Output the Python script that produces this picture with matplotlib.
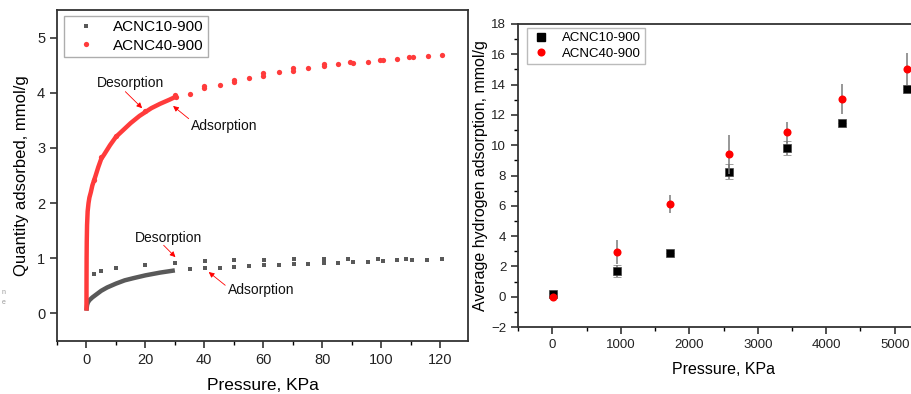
import matplotlib
matplotlib.use("Agg")
import matplotlib.pyplot as plt
from matplotlib.ticker import MultipleLocator

plt.rcParams['font.family'] = ['Liberation Sans', 'DejaVu Sans']

# ---------------- Left panel data ----------------
red_curve_x = [0, 0.02, 0.05, 0.1, 0.2, 0.4, 0.7, 1, 1.5, 2, 3, 4, 5, 6, 8, 10,
               12, 15, 18, 20, 22, 25, 28, 30]
red_curve_y = [0.05, 0.6, 1.0, 1.3, 1.6, 1.85, 2.0, 2.1, 2.2, 2.32, 2.48, 2.65,
               2.8, 2.88, 3.05, 3.2, 3.3, 3.45, 3.58, 3.65, 3.72, 3.8, 3.87, 3.92]
red_pts_x = [2.5, 5.1, 9.9, 19.8, 30.3, 30.0, 35.1, 40, 40, 45.2, 50, 50, 55, 60, 60,
             65.3, 70, 70, 75.3, 80.5, 80.5, 85.5, 89.5, 90.5, 95.5, 99.7, 100.5,
             105.5, 109.5, 110.8, 116, 120.7]
red_pts_y = [2.41, 2.83, 3.22, 3.67, 3.92, 3.96, 3.98, 4.13, 4.08, 4.14, 4.24, 4.19,
             4.27, 4.35, 4.31, 4.37, 4.44, 4.40, 4.44, 4.52, 4.48, 4.52, 4.56, 4.54,
             4.55, 4.60, 4.59, 4.61, 4.64, 4.64, 4.66, 4.68]

gray_curve_x = [0, 0.2, 0.5, 1, 2, 3, 4, 5, 7, 10, 13, 16, 20, 25, 30]
gray_curve_y = [0.05, 0.15, 0.2, 0.24, 0.29, 0.33, 0.37, 0.41, 0.47, 0.54, 0.6,
                0.64, 0.69, 0.74, 0.78]
gray_pts_x = [2.5, 5.1, 10, 20, 30.1, 40.1, 50.2, 60.3, 70.3, 80.5, 88.9, 98.9, 108.6,
              35.1, 40.1, 45.2, 50.2, 55.2, 60.3, 65.3, 70.3, 75.3, 80.5, 85.5, 90.5,
              95.5, 100.5, 105.5, 110.5, 115.7, 120.7]
gray_pts_y = [0.71, 0.77, 0.83, 0.88, 0.92, 0.95, 0.96, 0.97, 0.98, 0.98, 0.99, 0.98,
              0.98, 0.80, 0.82, 0.83, 0.84, 0.86, 0.87, 0.88, 0.89, 0.90, 0.91, 0.92,
              0.93, 0.94, 0.95, 0.96, 0.965, 0.97, 0.98]

# annotation labels, text positions, arrow tails and tips (data coords)
ann_labels = ['Desorption', 'Adsorption', 'Desorption', 'Adsorption']
ann_text_xy = [(14.9, 4.18), (46.9, 3.39), (27.7, 1.37), (59.3, 0.42)]
ann_tail_xy = [(13.2, 4.02), (34.7, 3.53), (26.2, 1.235), (47.1, 0.51)]
ann_tip_xy = [(18.9, 3.72), (29.4, 3.76), (30.2, 1.02), (41.5, 0.75)]

# ---------------- Right panel data ----------------
pressure_10 = [15, 940, 1722, 2578, 3430, 4231, 5180]
acnc10 = [0.15, 1.70, 2.89, 8.24, 9.83, 11.44, 13.69]
acnc10_err = [0.1, 0.37, 0.0, 0.5, 0.45, 0.0, 0.0]
pressure_40 = [15, 940, 1722, 2578, 3430, 4231, 5180]
acnc40 = [0.0, 2.93, 6.11, 9.41, 10.85, 13.03, 15.03]
acnc40_err = [0.0, 0.8, 0.6, 1.28, 0.7, 1.0, 1.03]

series_names = ['ACNC10-900', 'ACNC40-900']

RED_L = '#FF3B3B'
GRAY_L = '#595959'

fig = plt.figure(figsize=(9.11, 3.94), dpi=100)

# ---------------- Left axes ----------------
ax1 = fig.add_axes([57/911, 1-341/394, (468-57)/911, (341-10)/394])
ax1.plot(gray_curve_x, gray_curve_y, color=GRAY_L, lw=3.2, solid_capstyle='butt', zorder=2)
ax1.plot(red_curve_x, red_curve_y, color=RED_L, lw=3.2, solid_capstyle='butt', zorder=3)
ax1.plot(gray_pts_x, gray_pts_y, 's', color=GRAY_L, ms=3.2, mew=0, zorder=2)
ax1.plot(red_pts_x, red_pts_y, 'o', color=RED_L, ms=3.8, mew=0, zorder=3)
h1 = ax1.plot([], [], 's', color=GRAY_L, ms=3.2, mew=0)[0]
h2 = ax1.plot([], [], 'o', color=RED_L, ms=3.8, mew=0)[0]
leg1 = ax1.legend([h1, h2], series_names, loc='upper left', bbox_to_anchor=(0.018, 0.983),
                  fontsize=11, frameon=True, fancybox=False, edgecolor='#999999',
                  handlelength=2.2, handletextpad=0.7, borderpad=0.3, labelspacing=0.3,
                  borderaxespad=0)
leg1.get_frame().set_linewidth(1.0)

ax1.set_xlim(-10, 129.5)
ax1.set_ylim(-0.5, 5.5)
ax1.xaxis.set_major_locator(MultipleLocator(20))
ax1.xaxis.set_minor_locator(MultipleLocator(10))
ax1.yaxis.set_major_locator(MultipleLocator(1))
ax1.tick_params(direction='out', length=5, width=1.1, labelsize=10.5, colors='#222222')
ax1.tick_params(which='minor', direction='out', length=3, width=1.0)
for s in ax1.spines.values():
    s.set_linewidth(1.3)
    s.set_color('#333333')
ax1.set_xlabel('Pressure, KPa', fontsize=12.5, labelpad=8)
ax1.set_ylabel('Quantity adsorbed, mmol/g', fontsize=12, labelpad=6)

for lab, txy, tail, tip in zip(ann_labels, ann_text_xy, ann_tail_xy, ann_tip_xy):
    ax1.text(txy[0], txy[1], lab, fontsize=10, ha='center', va='center', color='#111111')
    ax1.annotate('', xy=tip, xytext=tail,
                 arrowprops=dict(arrowstyle='-|>', color='red', lw=0.6,
                                 mutation_scale=8, shrinkA=0, shrinkB=0))

fig.text(2/911, 1-292/394, 'n', fontsize=5, color='#9a9a9a', va='center')
fig.text(2/911, 1-302/394, 'e', fontsize=5, color='#9a9a9a', va='center')

# ---------------- Right axes ----------------
ax2 = fig.add_axes([518/911, 1-327/394, (929-518)/911, (327-24)/394])
ax2.errorbar(pressure_10, acnc10, yerr=acnc10_err, fmt='s', color='black', ms=5.2,
             mew=0.5, mec='#444444', ecolor='#7a7a7a', elinewidth=1.1, capsize=3,
             capthick=1.1, zorder=3)
ax2.errorbar(pressure_40, acnc40, yerr=acnc40_err, fmt='o', color='#FF0000', ms=5.8,
             mew=0, ecolor='#7a7a7a', elinewidth=1.1, capsize=3, capthick=1.1, zorder=4)
g1 = ax2.plot([], [], 's', color='black', ms=5.2)[0]
g2 = ax2.plot([], [], 'o', color='#FF0000', ms=5.8, mew=0)[0]
leg2 = ax2.legend([g1, g2], series_names, loc='upper left', bbox_to_anchor=(0.0215, 0.987),
                  fontsize=9.5, frameon=True, fancybox=False, edgecolor='#aaaaaa',
                  handlelength=1.6, handletextpad=0.8, borderpad=0.3, labelspacing=0.25,
                  borderaxespad=0)
leg2.get_frame().set_linewidth(1.0)
ax2.set_xlim(-500, 5500)
ax2.set_ylim(-2, 18)
ax2.xaxis.set_major_locator(MultipleLocator(1000))
ax2.xaxis.set_minor_locator(MultipleLocator(500))
ax2.yaxis.set_major_locator(MultipleLocator(2))
ax2.yaxis.set_minor_locator(MultipleLocator(1))
ax2.tick_params(direction='out', length=5, width=1.1, labelsize=9.5, colors='#222222')
ax2.tick_params(which='minor', direction='out', length=3, width=1.0)
for s in ax2.spines.values():
    s.set_linewidth(1.3)
    s.set_color('#333333')
ax2.set_xlabel('Pressure, KPa', fontsize=11.5, labelpad=8)
ax2.set_ylabel('Average hydrogen adsorption, mmol/g', fontsize=11.5, labelpad=2)

fig.savefig('out.png', dpi=100)
